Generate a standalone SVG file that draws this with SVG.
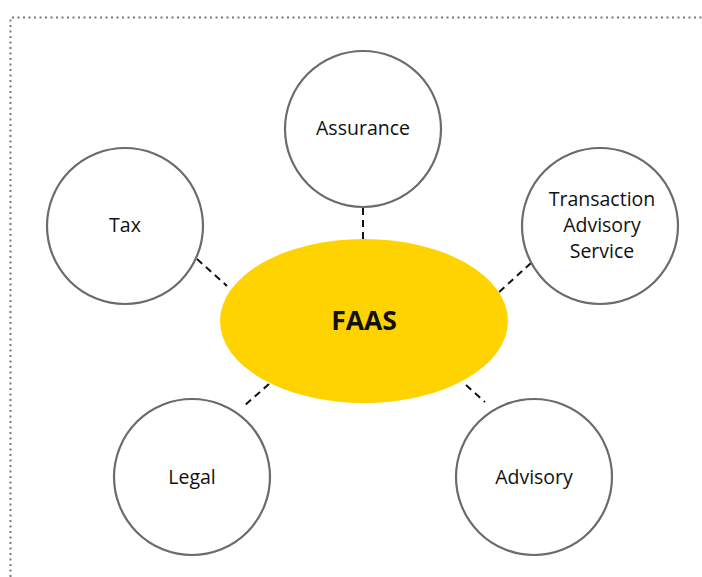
<svg xmlns="http://www.w3.org/2000/svg" width="702" height="577" viewBox="0 0 702 577">
<style>
.n{fill:#fff;stroke:#6b6b6b;stroke-width:2.2}
.t{font-family:"Open Sans","Liberation Sans",sans-serif;font-size:19.5px;fill:#111;text-anchor:middle}
.c{stroke:#111;stroke-width:2;stroke-dasharray:7,5;fill:none}
</style>
<rect width="702" height="577" fill="#fff"/>
<path d="M10.5 577 V17.5 H702" fill="none" stroke="#777" stroke-width="2" stroke-dasharray="2,3.5"/>
<g id="connectors">
<line class="c" x1="363" y1="208" x2="363" y2="239"/>
<line class="c" x1="197" y1="259" x2="227" y2="286"/>
<line class="c" x1="531" y1="263" x2="498" y2="293"/>
<line class="c" x1="269" y1="384" x2="244" y2="406"/>
<line class="c" x1="466" y1="385" x2="485" y2="402"/>
</g>
<g id="assurance"><circle class="n" cx="363" cy="129" r="78"/><text class="t" x="363" y="135">Assurance</text></g>
<g id="tax"><circle class="n" cx="125" cy="226" r="78"/><text class="t" x="125" y="232">Tax</text></g>
<g id="transaction"><circle class="n" cx="600" cy="226" r="78"/><text class="t" x="602" y="206">Transaction</text><text class="t" x="602" y="232">Advisory</text><text class="t" x="602" y="258">Service</text></g>
<g id="legal"><circle class="n" cx="192" cy="477" r="78"/><text class="t" x="192" y="484">Legal</text></g>
<g id="advisory"><circle class="n" cx="534" cy="477" r="78"/><text class="t" x="534" y="484">Advisory</text></g>
<g id="faas"><ellipse cx="364" cy="321" rx="144" ry="82" fill="#ffd300"/><text x="364" y="330" text-anchor="middle" font-family="Open Sans,Liberation Sans,sans-serif" font-weight="bold" font-size="26.5" fill="#111">FAAS</text></g>
</svg>
